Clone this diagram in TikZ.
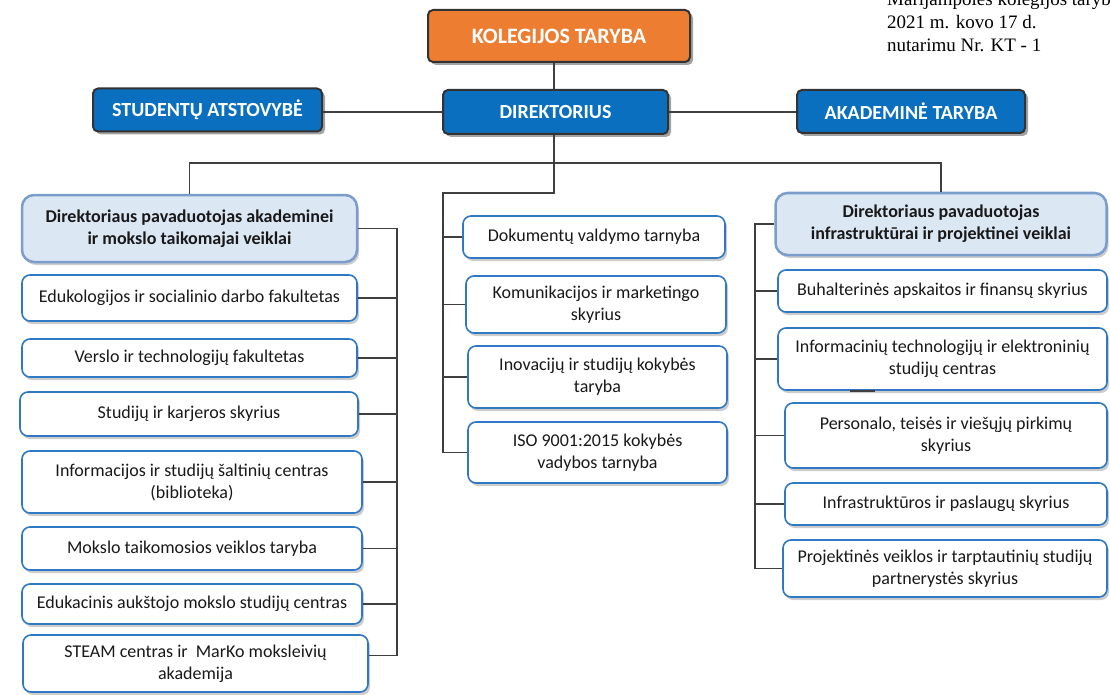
\documentclass[tikz,border=0pt]{standalone}
\usepackage{fontspec}
\setmainfont{Carlito}
\newfontfamily\notefont{Liberation Serif}
\usetikzlibrary{shadows}

\definecolor{orangebox}{HTML}{ED7D31}
\definecolor{bluebox}{HTML}{0B6FC0}
\definecolor{unitline}{HTML}{2E78C4}
\definecolor{headfill}{HTML}{DCE7F4}
\definecolor{headline}{HTML}{7B9DCB}
\definecolor{linkgray}{HTML}{3F3F3F}

\tikzset{
  topbox/.style={draw=black!80, line width=2pt, rounded corners=5pt, fill=bluebox,
    text=white, font=\fontsize{20}{24}\selectfont\bfseries, inner sep=0pt,
    drop shadow={shadow xshift=3pt, shadow yshift=-3pt, fill=black!60, opacity=0.6}},
  unitbox/.style={draw=unitline, line width=1.6pt, rounded corners=8pt, fill=white,
    text=black!90, font=\fontsize{18}{22}\selectfont, align=center, inner sep=0pt,
    drop shadow={shadow xshift=2pt, shadow yshift=-3pt, fill=black!40, opacity=0.5}},
  headbox/.style={unitbox, draw=headline, line width=2.5pt, rounded corners=12pt,
    fill=headfill, font=\fontsize{18}{22}\selectfont\bfseries},
  notetext/.style={anchor=base west, inner sep=0pt, font=\notefont\fontsize{19}{23}\selectfont},
  link/.style={draw=linkgray, line width=1.8pt},
}

\begin{document}
\begin{tikzpicture}[x=1pt, y=-1pt]
  \useasboundingbox (0,0) rectangle (1110,695);

  % Note in the corner
  \node[notetext] (note1) at (887,5.5) {Marijampolės kolegijos tarybos};
  \node[notetext] (note2) at (887,28.5) {2021 m. kovo 17 d.};
  \node[notetext] (note3) at (887,51.5) {nutarimu Nr. KT - 1};

  % Top level
  \node[topbox, fill=orangebox, font=\fontsize{22}{26}\selectfont\bfseries,
    minimum width=262pt, minimum height=52pt] (kt) at (559,36) {KOLEGIJOS TARYBA};
  \node[topbox, minimum width=229pt, minimum height=43pt] (sa) at (207.5,110) {STUDENTŲ ATSTOVYBĖ};
  \node[topbox, minimum width=225pt, minimum height=44pt] (dir) at (555.5,112) {DIREKTORIUS};
  \node[topbox, minimum width=228pt, minimum height=43pt] (at) at (911,111.5) {AKADEMINĖ TARYBA};

  % Left column
  \node[headbox, minimum width=335pt, minimum height=67pt] (lh) at (189.5,228.5)
    {Direktoriaus pavaduotojas akademinei\\ir mokslo taikomajai veiklai};
  \node[unitbox, minimum width=335pt, minimum height=46pt] (edu) at (189.5,298)
    {Edukologijos ir socialinio darbo fakultetas};
  \node[unitbox, minimum width=335pt, minimum height=38pt] (ver) at (189.5,358)
    {Verslo ir technologijų fakultetas};
  \node[unitbox, minimum width=338pt, minimum height=44pt] (stud) at (189,414)
    {Studijų ir karjeros skyrius};
  \node[unitbox, minimum width=340pt, minimum height=62pt] (info) at (192,482)
    {Informacijos ir studijų šaltinių centras\\(biblioteka)};
  \node[unitbox, minimum width=340pt, minimum height=43pt] (moks) at (192,548.5)
    {Mokslo taikomosios veiklos taryba};
  \node[unitbox, minimum width=340pt, minimum height=40pt] (eduk) at (192,604)
    {Edukacinis aukštojo mokslo studijų centras};
  \node[unitbox, minimum width=345pt, minimum height=57pt] (steam) at (195.5,663.5)
    {STEAM centras ir~ MarKo moksleivių\\akademija};

  % Middle column
  \node[unitbox, minimum width=262pt, minimum height=42pt] (doc) at (594,237)
    {Dokumentų valdymo tarnyba};
  \node[unitbox, minimum width=260pt, minimum height=57pt] (kom) at (596,304.5)
    {Komunikacijos ir marketingo\\skyrius};
  \node[unitbox, minimum width=259pt, minimum height=62pt] (ino) at (597.5,377)
    {Inovacijų ir studijų kokybės\\taryba};
  \node[unitbox, minimum width=259pt, minimum height=61pt] (iso) at (597.5,452.5)
    {ISO 9001:2015 kokybės\\vadybos tarnyba};

  % Right column
  \node[headbox, minimum width=331pt, minimum height=62pt] (rh) at (941,224)
    {Direktoriaus pavaduotojas\\infrastruktūrai ir projektinei veiklai};
  \node[unitbox, minimum width=329pt, minimum height=42pt] (buh) at (942.5,291)
    {Buhalterinės apskaitos ir finansų skyrius};
  \node[unitbox, minimum width=329pt, minimum height=62pt] (itc) at (942.5,359)
    {Informacinių technologijų ir elektroninių\\studijų centras};
  \node[unitbox, minimum width=322pt, minimum height=65pt] (pers) at (946,435.5)
    {Personalo, teisės ir viešųjų pirkimų\\skyrius};
  \node[unitbox, minimum width=322pt, minimum height=42pt] (infr) at (946,504)
    {Infrastruktūros ir paslaugų skyrius};
  \node[unitbox, minimum width=324pt, minimum height=57pt] (proj) at (945,568.5)
    {Projektinės veiklos ir tarptautinių studijų\\partnerystės skyrius};

  % Connectors
  \coordinate (bus) at (554,163);
  \coordinate (ctop) at (443,193);
  \coordinate (lspine) at (397,228.5);
  \coordinate (rspine) at (755,224);

  \draw[link] (bus |- kt.south) -- (bus |- dir.north);
  \draw[link] (sa.east |- dir.west) -- (dir.west);
  \draw[link] (dir.east) -- (dir.east -| at.west);
  \draw[link] (bus |- dir.south) -- (bus);
  \draw[link] (lh.north) |- (bus) -| (rh.north);
  \draw[link] (bus) |- (ctop) |- (iso.west);
  \draw[link] (ctop |- doc.west) -- (doc.west);
  \draw[link] (ctop |- kom.west) -- (kom.west);
  \draw[link] (ctop |- ino.west) -- (ino.west);

  \draw[link] (lh.east) -- (lspine) |- ([yshift=8pt]steam.east);
  \draw[link] (lspine |- edu.east) -- (edu.east);
  \draw[link] (lspine |- ver.east) -- (ver.east);
  \draw[link] (lspine |- stud.east) -- (stud.east);
  \draw[link] (lspine |- info.east) -- (info.east);
  \draw[link] (lspine |- moks.east) -- (moks.east);
  \draw[link] (lspine |- eduk.east) -- (eduk.east);

  \draw[link] (rh.west) -- (rspine) |- (proj.west);
  \draw[link] (rspine |- buh.west) -- (buh.west);
  \draw[link] (rspine |- itc.west) -- (itc.west);
  \draw[link] (rspine |- pers.west) -- (pers.west);
  \draw[link] (rspine |- infr.west) -- (infr.west);
  \draw[link] ([xshift=-93pt]itc.south) -- ++(25,0);
\end{tikzpicture}
\end{document}
